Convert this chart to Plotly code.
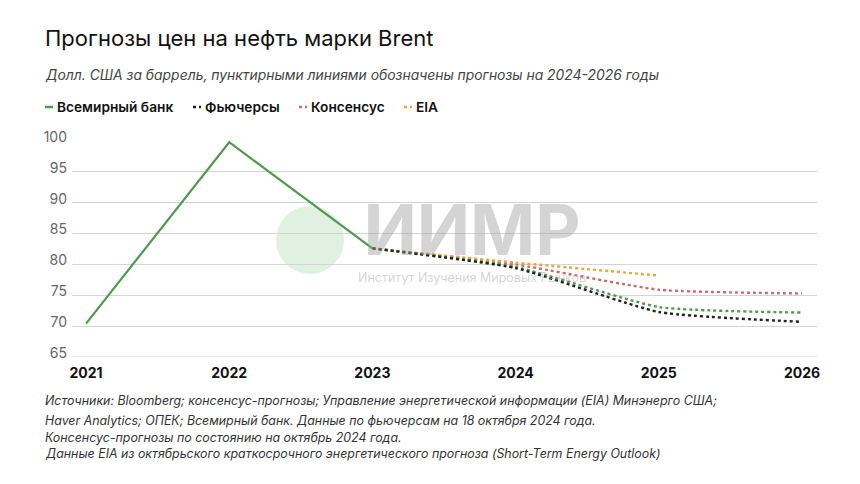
import plotly.graph_objects as go

# ---- data ----
years = [2021, 2022, 2023, 2024, 2025, 2026]
wb_actual_years = [2021, 2022, 2023]
wb_actual = [70.4, 99.8, 82.6]
forecast_years = [2023, 2024, 2025, 2026]
wb_forecast = [82.6, 79.6, 73.1, 72.2]
futures = [82.6, 79.4, 72.3, 70.7]
consensus = [82.6, 80.0, 75.9, 75.3]
eia_years = [2023, 2024, 2025]
eia = [82.6, 80.3, 78.2]
y_ticks = [65, 70, 75, 80, 85, 90, 95, 100]
series_names = ["Всемирный банк", "Фьючерсы", "Консенсус", "EIA"]

GREEN = "#4f9a4c"
BLACK = "#222222"
RED = "#c96a6e"
ORANGE = "#eda43a"
FONT = "Inter"

# page body has an 8px margin: size the figure so it fits the 860x484 window
OFF = 8
W, H = 860 - OFF, 484 - OFF
# plot-area in window pixels
L, R, T, B = 72, 817, 141, 357


def px_x(p):
    return (p - L) / (R - L)


def px_y(p):
    return (B - p) / (B - T)


fig = go.Figure()
fig.add_trace(go.Scatter(x=wb_actual_years, y=wb_actual, mode="lines",
                         line=dict(color=GREEN, width=2.2), name=series_names[0]))
fig.add_trace(go.Scatter(x=forecast_years, y=consensus, mode="lines",
                         line=dict(color=RED, width=2.4, dash="dot", shape="spline", smoothing=0.5),
                         name=series_names[2]))
fig.add_trace(go.Scatter(x=eia_years, y=eia, mode="lines",
                         line=dict(color=ORANGE, width=2.4, dash="dot", shape="spline", smoothing=0.5),
                         name=series_names[3]))
fig.add_trace(go.Scatter(x=forecast_years, y=wb_forecast, mode="lines",
                         line=dict(color=GREEN, width=2.4, dash="dot", shape="spline", smoothing=0.5),
                         name=series_names[0] + " (прогноз)"))
fig.add_trace(go.Scatter(x=forecast_years, y=futures, mode="lines",
                         line=dict(color=BLACK, width=2.4, dash="dot", shape="spline", smoothing=0.5),
                         name=series_names[1]))

fig.update_layout(
    width=W, height=H,
    margin=dict(l=L - OFF, r=(W + OFF) - R, t=T - OFF, b=(H + OFF) - B, pad=0),
    paper_bgcolor="white", plot_bgcolor="white",
    font=dict(family=FONT, color="#1a1a1a"),
    xaxis=dict(range=[2021 - 0.098, 2026 + 0.105], tickvals=years,
               ticktext=[str(y) for y in years], showgrid=False, zeroline=False,
               showline=False, ticks="",
               tickfont=dict(family=FONT, size=14, color="#111111", weight=700),
               ticklabelstandoff=6),
    yaxis=dict(range=[65, 100], tickvals=y_ticks, showgrid=True,
               gridcolor="#d4d4d4", gridwidth=1.2, zeroline=False, showline=False,
               ticks="", tickfont=dict(family=FONT, size=14, color="#666666"),
               ticklabelstandoff=4, ticklabelshift=-4),
    showlegend=False,
)

# bottom gridline (65)
fig.add_shape(type="line", xref="paper", yref="y", x0=0, x1=1, y0=65, y1=65,
              line=dict(color="#d4d4d4", width=1.2), layer="below")

# watermark (logo circle + one combined text block)
fig.add_shape(type="circle", xref="paper", yref="paper",
              x0=px_x(276), x1=px_x(344), y0=px_y(274), y1=px_y(206),
              fillcolor="rgba(120,190,120,0.22)", line=dict(width=0), layer="between")
fig.add_annotation(xref="paper", yref="paper", x=px_x(472), y=px_y(236),
                   text="<b><span style='font-size:70px'>ИИМР</span></b><br>"
                        "<span style='font-size:12.5px'>Институт Изучения Мировых Рынков</span>",
                   showarrow=False, align="center",
                   font=dict(family=FONT, size=21, color="rgba(160,160,160,0.45)"))

TX = 43  # left edge of texts (window px)

# title & subtitle
fig.add_annotation(xref="paper", yref="paper", x=px_x(TX), y=px_y(38),
                   xanchor="left", yanchor="middle", showarrow=False,
                   text="Прогнозы цен на нефть марки Brent",
                   font=dict(family=FONT, size=22, color="#111111"))
fig.add_annotation(xref="paper", yref="paper", x=px_x(TX), y=px_y(75),
                   xanchor="left", yanchor="middle", showarrow=False,
                   text="<i>Долл. США за баррель, пунктирными линиями обозначены прогнозы на 2024-2026 годы</i>",
                   font=dict(family=FONT, size=13.9, color="#444444"))

# legend (manual)
legend_colors = [GREEN, BLACK, RED, ORANGE]
legend_dash = ["solid", "dot", "dot", "dot"]
legend_sym_x = [45, 193, 299, 404]
legend_y = 107
for name, col, dsh, sx in zip(series_names, legend_colors, legend_dash, legend_sym_x):
    fig.add_shape(type="line", xref="paper", yref="paper",
                  x0=px_x(sx), x1=px_x(sx + 8), y0=px_y(legend_y), y1=px_y(legend_y),
                  line=dict(color=col, width=2.5, dash=dsh))
    fig.add_annotation(xref="paper", yref="paper", x=px_x(sx + 10), y=px_y(legend_y),
                       xanchor="left", yanchor="middle", showarrow=False,
                       text=name, font=dict(family=FONT, size=13.7, color="#111111", weight=600))

# footnotes
notes = [
    "Источники: Bloomberg; консенсус-прогнозы; Управление энергетической информации (EIA) Минэнерго США;",
    "Haver Analytics; ОПЕК; Всемирный банк. Данные по фьючерсам на 18 октября 2024 года.",
    "Консенсус-прогнозы по состоянию на октябрь 2024 года.",
    "Данные EIA из октябрьского краткосрочного энергетического прогноза (Short-Term Energy Outlook)",
]
note_y = [400, 420, 437, 453]
for t, yy in zip(notes, note_y):
    fig.add_annotation(xref="paper", yref="paper", x=px_x(TX), y=px_y(yy),
                       xanchor="left", yanchor="middle", showarrow=False,
                       text="<i>" + t + "</i>",
                       font=dict(family=FONT, size=12.4, color="#333333"))

fig.write_html("out.html")
